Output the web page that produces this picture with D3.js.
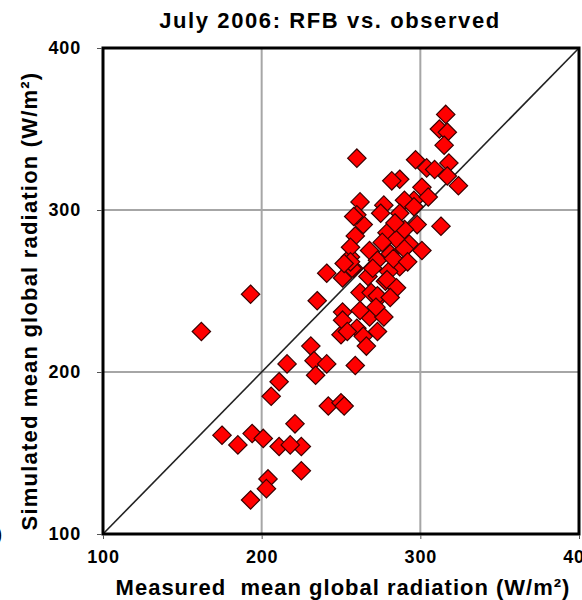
<!DOCTYPE html>
<html>
<head>
<meta charset="utf-8">
<script src="https://cdn.jsdelivr.net/npm/d3@7"></script>
<style>
  body { margin: 0; background: #fff; }
  svg { display: block; }
  text { font-family: "Liberation Sans", Arial, sans-serif; font-weight: bold; fill: #000; }
</style>
</head>
<body>
<div id="chart"></div>
<script>
// measured (x) vs simulated (y) mean global radiation, W/m2
var measured = [162, 193, 175, 185, 194, 201, 211, 221, 225, 218, 225, 204, 203, 193,
  206, 211, 216, 231, 233, 241, 234, 242, 250, 252, 235, 241, 251, 258, 251, 250,
  251, 259, 260, 316, 312, 317, 315, 297, 304, 309, 318, 317, 324, 301, 287, 282,
  296, 290, 262, 277, 313, 275, 287, 296, 298, 264, 259, 279, 285, 293, 301, 268,
  281, 273, 256, 257, 287, 280, 267, 278, 262, 274, 268, 277, 260, 273, 254, 260,
  256, 256, 264, 269, 273, 279, 252, 290,
  283, 290, 270, 276, 284, 262, 285, 266, 272, 258, 305, 292, 281];
var simulated = [225, 248, 161, 155, 162, 159, 154, 168, 154, 155, 139, 134, 128, 121,
  185, 194, 205, 216, 207, 205, 198, 179, 181, 179, 244, 261, 258, 264, 237, 223,
  232, 204, 332, 359, 350, 348, 340, 331, 326, 325, 329, 321, 315, 314, 319, 318,
  306, 306, 305, 303, 290, 298, 298, 302, 291, 291, 284, 286, 282, 279, 275, 275,
  273, 269, 271, 264, 265, 262, 259, 256, 249, 246, 234, 234, 227, 225, 225, 297,
  277, 268, 222, 249, 247, 257, 267, 288,
  270, 276, 264, 280, 292, 238, 252, 216, 240, 296, 308, 268, 246];
var ticks = [100, 200, 300, 400];
var gridVals = [200, 300];

var width = 582, height = 600;
var pLeft = 103, pRight = 579, pTop = 48, pBottom = 534;

var svg = d3.select("#chart").append("svg")
  .attr("width", width)
  .attr("height", height);

var x = d3.scaleLinear().domain([100, 400]).range([pLeft, pRight]);
var y = d3.scaleLinear().domain([100, 400]).range([pBottom, pTop]);

// title
svg.append("text")
  .attr("x", 330)
  .attr("y", 28)
  .attr("text-anchor", "middle")
  .style("font-size", "22px")
  .style("letter-spacing", "1.6px")
  .text("July 2006: RFB vs. observed");

// grid
svg.selectAll(".gx").data(gridVals).enter().append("line")
  .attr("x1", d => x(d)).attr("x2", d => x(d))
  .attr("y1", pTop).attr("y2", pBottom)
  .attr("stroke", "#a6a6a6").attr("stroke-width", 2);
svg.selectAll(".gy").data(gridVals).enter().append("line")
  .attr("y1", d => y(d)).attr("y2", d => y(d))
  .attr("x1", pLeft).attr("x2", pRight)
  .attr("stroke", "#a6a6a6").attr("stroke-width", 2);

// 1:1 line
svg.append("line")
  .attr("x1", x(100)).attr("y1", y(100))
  .attr("x2", x(400)).attr("y2", y(400))
  .attr("stroke", "#222").attr("stroke-width", 1.6);

// points
var pts = measured.map((m, i) => ({m: m, s: simulated[i]}));
var r = 9.2;
svg.append("g").selectAll("path").data(pts).enter().append("path")
  .attr("d", "M0," + (-r) + "L" + r + ",0L0," + r + "L" + (-r) + ",0Z")
  .attr("transform", d => "translate(" + x(d.m) + "," + y(d.s) + ")")
  .attr("fill", "#ff0000")
  .attr("stroke", "#3a0000")
  .attr("stroke-width", 1.2);

// frame
svg.append("rect")
  .attr("x", pLeft).attr("y", pTop)
  .attr("width", pRight - pLeft).attr("height", pBottom - pTop)
  .attr("fill", "none").attr("stroke", "#000").attr("stroke-width", 3);

// axes
var yAxis = svg.append("g")
  .attr("transform", "translate(" + (pLeft - 1) + ",0)")
  .call(d3.axisLeft(y).tickValues(ticks).tickSize(5).tickPadding(16));
var xAxis = svg.append("g")
  .attr("transform", "translate(0," + (pBottom + 1) + ")")
  .call(d3.axisBottom(x).tickValues(ticks).tickSize(4).tickPadding(11));
[xAxis, yAxis].forEach(function(a) {
  a.select(".domain").remove();
  a.selectAll("text")
    .style("font-size", "18px")
    .style("letter-spacing", "0.8px")
    .attr("fill", "#000");
  a.selectAll("line").attr("stroke", "#555");
});

// axis titles
svg.append("text")
  .attr("transform", "translate(37,301) rotate(-90)")
  .attr("text-anchor", "middle")
  .style("font-size", "22px")
  .style("letter-spacing", "1.2px")
  .text("Simulated mean global radiation (W/m²)");

svg.append("text")
  .attr("x", 343)
  .attr("y", 595)
  .attr("text-anchor", "middle")
  .style("font-size", "22px")
  .style("letter-spacing", "1px")
  .style("white-space", "pre")
  .text("Measured  mean global radiation (W/m²)");

// stray clipped glyph at the left edge
svg.append("text")
  .attr("x", -4)
  .attr("y", 540)
  .style("font-size", "18px")
  .text(")");
</script>
</body>
</html>
